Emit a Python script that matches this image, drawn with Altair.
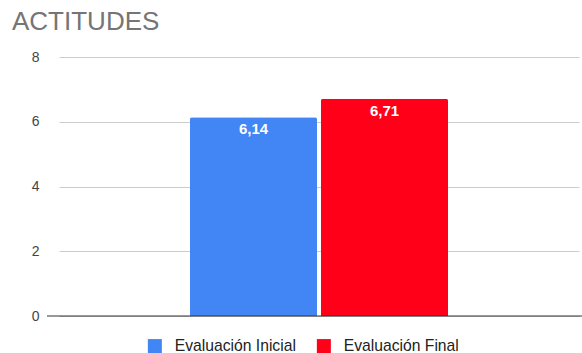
import altair as alt
import pandas as pd

series = ["Evaluación Inicial", "Evaluación Final"]
values = [6.14, 6.71]
labels = ["6,14", "6,71"]
colors = ["#4285f4", "#ff0018"]
y_ticks = [0, 2, 4, 6, 8]

df = pd.DataFrame({"serie": series, "valor": values, "etiqueta": labels})

FONT = "Liberation Sans"

x_scale = alt.Scale(range=[12, 532], paddingInner=0.0305, paddingOuter=1)
y_scale = alt.Scale(domain=[0, 8], nice=False)

bars = alt.Chart(df).mark_bar(cornerRadiusTopLeft=2, cornerRadiusTopRight=2).encode(
    x=alt.X("serie:N", sort=series, axis=None, scale=x_scale),
    y=alt.Y("valor:Q", scale=y_scale,
            axis=alt.Axis(values=y_ticks, title=None, domain=False, ticks=False,
                          labelPadding=8, labelFontSize=14, labelColor="#444444",
                          labelFont=FONT, gridColor="#cccccc", gridWidth=1)),
    color=alt.Color("serie:N", sort=series,
                    scale=alt.Scale(domain=series, range=colors),
                    legend=alt.Legend(title=None, orient="none", direction="horizontal",
                                      legendX=100, legendY=281,
                                      symbolType="square", symbolSize=196,
                                      symbolStrokeWidth=0, symbolOpacity=1,
                                      labelFontSize=15.7, labelColor="#222222",
                                      labelFont=FONT, columnPadding=20, labelOffset=12)),
)

text = alt.Chart(df).mark_text(color="white", fontWeight="bold", fontSize=15,
                               font=FONT, baseline="top", dy=5).encode(
    x=alt.X("serie:N", sort=series, axis=None, scale=x_scale),
    y=alt.Y("valor:Q", scale=y_scale),
    text="etiqueta:N",
)

zero = alt.Chart(pd.DataFrame({"y": [0]})).mark_rule(color="#333333", strokeWidth=1).encode(
    y=alt.Y("y:Q", scale=y_scale)
)

chart = alt.layer(bars, text, zero).properties(
    width=535, height=259,
    title=alt.Title("ACTITUDES", anchor="start", frame="group", dx=-35, offset=15,
                    fontSize=26, font=FONT, fontWeight="normal", color="#757575"),
    padding={"left": 47, "top": 57, "right": 0, "bottom": 37},
    autosize=alt.AutoSizeParams(type="none"),
).configure_view(stroke=None)

chart.save("out.html", embed_options={"renderer": "svg", "actions": False})
